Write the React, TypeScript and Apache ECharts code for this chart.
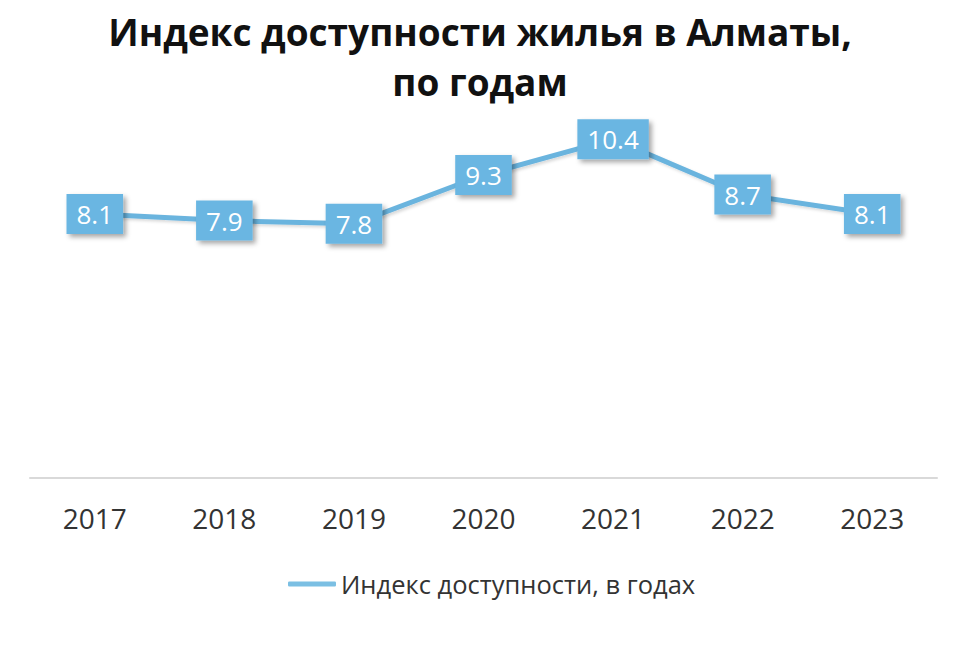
import React, { useEffect, useRef } from "react";
import * as echarts from "echarts";

const years = ["2017", "2018", "2019", "2020", "2021", "2022", "2023"];
const indexValues = [8.1, 7.9, 7.8, 9.3, 10.4, 8.7, 8.1];
const seriesName = "Индекс доступности, в годах";
const titleText = "Индекс доступности жилья в Алматы,\nпо годам";

export default function App() {
  const ref = useRef<HTMLDivElement>(null);
  useEffect(() => {
    if (!ref.current) return;
    const chart = echarts.init(ref.current, undefined, { renderer: "svg" });
    chart.setOption({
      animation: false,
      backgroundColor: "#ffffff",
      title: {
        text: titleText,
        left: "center",
        top: 6,
        padding: 0,
        textStyle: {
          fontFamily: "Open Sans",
          fontSize: 37,
          fontWeight: "bold",
          lineHeight: 50,
          color: "#111111",
        },
      },
      grid: { left: 30, right: 23, top: 87, bottom: 167 },
      xAxis: {
        type: "category",
        data: years,
        boundaryGap: true,
        axisLine: { lineStyle: { color: "#d9d9d9", width: 2 } },
        axisTick: { show: false },
        axisLabel: {
          color: "#333333",
          fontFamily: "Open Sans",
          fontSize: 28,
          margin: 26,
        },
      },
      yAxis: {
        type: "value",
        min: 0,
        max: 12,
        show: false,
        splitLine: { show: false },
      },
      legend: {
        data: [seriesName],
        left: 288,
        top: 571,
        padding: 0,
        icon: "roundRect",
        itemWidth: 48,
        itemHeight: 5,
        textStyle: {
          fontFamily: "Open Sans",
          fontSize: 25.5,
          color: "#333333",
        },
      },
      series: [
        {
          name: seriesName,
          type: "line",
          data: indexValues,
          symbol: "circle",
          symbolSize: 1,
          itemStyle: { color: "#7bbfe3" },
          lineStyle: {
            color: "#6bb4de",
            width: 5,
            shadowColor: "rgba(0,0,0,0.15)",
            shadowBlur: 3,
            shadowOffsetX: 2,
            shadowOffsetY: 2,
          },
          label: {
            show: true,
            position: "inside",
            color: "#ffffff",
            fontFamily: "Open Sans",
            fontSize: 26,
            backgroundColor: "#6ab6e2",
            padding: [8, 10, 6, 10],
            shadowColor: "rgba(0,0,0,0.35)",
            shadowBlur: 5,
            shadowOffsetX: 3,
            shadowOffsetY: 3,
          },
        },
      ],
    });
    return () => chart.dispose();
  }, []);
  return (
    <div
      ref={ref}
      style={{ position: "absolute", left: 0, top: 0, width: 960, height: 645 }}
    />
  );
}
